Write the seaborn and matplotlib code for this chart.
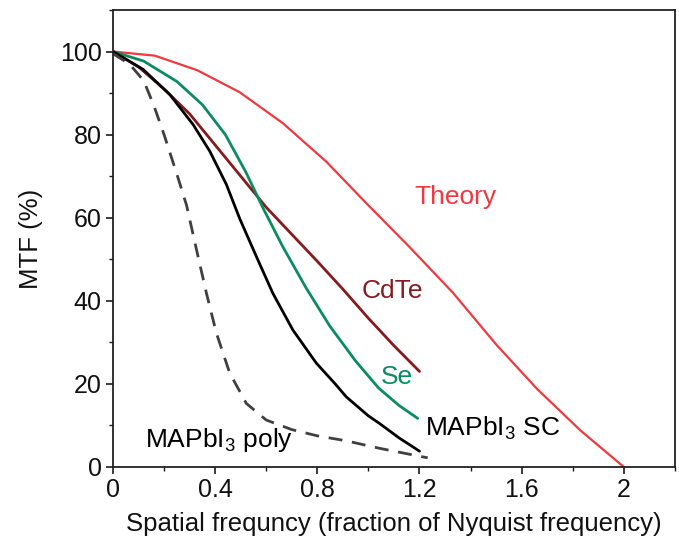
import matplotlib
matplotlib.use("Agg")
import matplotlib.pyplot as plt
import seaborn as sns
import pandas as pd
from matplotlib.ticker import MultipleLocator

# ---- data ----
theory_x = [0, 0.164, 0.33, 0.496, 0.664, 0.835, 0.99, 1.16, 1.33, 1.5, 1.66, 1.83, 2.0]
theory_y = [100, 99, 95.5, 90.2, 82.8, 73.5, 63.6, 53, 42, 29.5, 18.8, 8.8, 0]

cdte_x = [0, 0.1, 0.2, 0.3, 0.4, 0.5, 0.6, 0.7, 0.8, 0.9, 1.0, 1.1, 1.2]
cdte_y = [100, 96.3, 91, 85, 77.5, 70, 62.5, 56, 49.5, 42.8, 35.8, 29.2, 23]

se_x = [0, 0.12, 0.25, 0.35, 0.44, 0.52, 0.59, 0.665, 0.757, 0.848, 0.95, 1.04, 1.12, 1.193]
se_y = [100, 97.7, 92.8, 87.2, 80, 71, 62, 53, 43, 34, 25.5, 19, 14.8, 11.7]

sc_x = [0, 0.118, 0.223, 0.314, 0.379, 0.444, 0.496, 0.561, 0.626, 0.704, 0.796, 0.87, 0.913, 1.0, 1.043, 1.12, 1.2]
sc_y = [100, 95.7, 89.6, 82.4, 76, 68, 59.8, 50.7, 41.8, 33, 25, 20, 16.9, 12.3, 10.5, 7, 3.8]

poly_x = [0, 0.066, 0.12, 0.16, 0.2, 0.25, 0.288, 0.327, 0.366, 0.405, 0.457, 0.522, 0.6, 0.7, 0.8, 0.913, 1.043, 1.232]
poly_y = [99.5, 96.9, 93, 87, 80, 70.5, 63, 52.3, 41.8, 32.2, 22.6, 15.3, 11.3, 9, 7.5, 6.3, 4.5, 2.2]

x_ticks = [0, 0.4, 0.8, 1.2, 1.6, 2.0]
x_tick_labels = ["0", "0.4", "0.8", "1.2", "1.6", "2"]
y_ticks = [0, 20, 40, 60, 80, 100]

sns.set_style("ticks")
plt.rcParams['font.family'] = ['Liberation Sans', 'DejaVu Sans']
plt.rcParams['mathtext.fontset'] = 'custom'
plt.rcParams['mathtext.rm'] = 'Liberation Sans'
plt.rcParams['mathtext.it'] = 'Liberation Sans'

fig = plt.figure(figsize=(6.79, 5.43), dpi=100)
ax = fig.add_axes([0.1664, 0.140, 0.994 - 0.1664, 0.9816 - 0.140])

c_theory = "#f0393f"
c_cdte = "#861a1c"
c_se = "#0a8c5e"
c_sc = "#000000"
c_poly = "#404040"

sns.lineplot(x=theory_x, y=theory_y, ax=ax, color=c_theory, lw=1.6, sort=False, estimator=None)
sns.lineplot(x=cdte_x, y=cdte_y, ax=ax, color=c_cdte, lw=2.0, sort=False, estimator=None)
sns.lineplot(x=se_x, y=se_y, ax=ax, color=c_se, lw=2.0, sort=False, estimator=None)
sns.lineplot(x=sc_x, y=sc_y, ax=ax, color=c_sc, lw=2.0, sort=False, estimator=None)
sns.lineplot(x=poly_x, y=poly_y, ax=ax, color=c_poly, lw=2.0, sort=False, estimator=None,
             linestyle=(0, (5, 3.5)))

ax.set_xlim(0, 2.2)
ax.set_ylim(0, 110)
ax.set_xticks(x_ticks)
ax.set_xticklabels(x_tick_labels)
ax.set_yticks(y_ticks)
ax.xaxis.set_minor_locator(MultipleLocator(0.2))
ax.yaxis.set_minor_locator(MultipleLocator(10))
ax.tick_params(which='major', direction='out', length=5, width=1.2, labelsize=18,
               colors='#1a1a1a', labelcolor='#111111', pad=3)
ax.tick_params(which='minor', direction='out', length=3, width=1.0, colors='#1a1a1a')
for s in ax.spines.values():
    s.set_visible(True)
    s.set_linewidth(1.3)
    s.set_color('#222222')

ax.set_xlabel("Spatial frequncy (fraction of Nyquist frequency)", fontsize=18.5, labelpad=7, color='#111111')
ax.set_ylabel("MTF (%)", fontsize=18.5, labelpad=12, color='#111111')

ax.text(1.34, 65, "Theory", color=c_theory, fontsize=19, ha='center', va='center')
ax.text(1.094, 42.4, "CdTe", color=c_cdte, fontsize=19, ha='center', va='center')
ax.text(1.11, 21.7, "Se", color=c_se, fontsize=19, ha='center', va='center')
ax.text(1.22, 9.4, r"MAPbI$_3$ SC", color="#000000", fontsize=19, ha='left', va='center')
ax.text(0.125, 6.5, r"MAPbI$_3$ poly", color="#000000", fontsize=19, ha='left', va='center')

fig.savefig("out.png", dpi=100)
